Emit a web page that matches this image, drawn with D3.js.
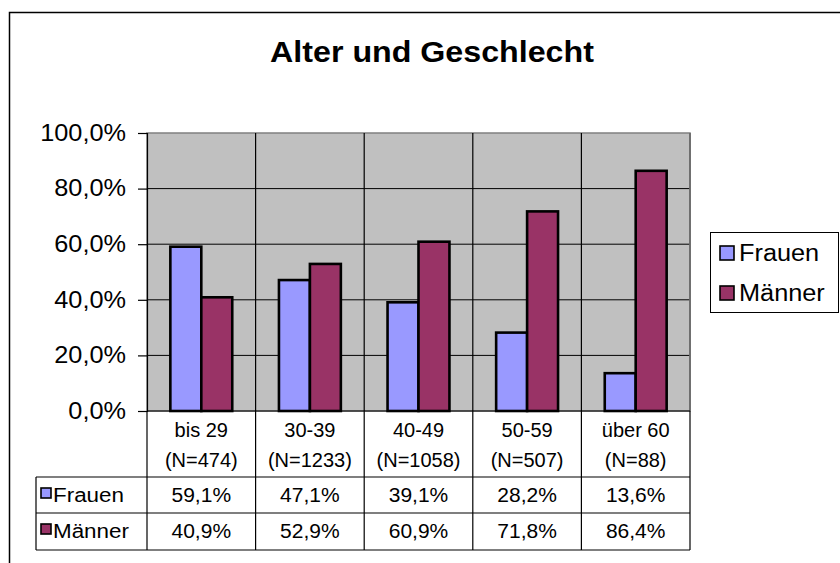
<!DOCTYPE html>
<html>
<head>
<meta charset="utf-8">
<script src="https://cdn.jsdelivr.net/npm/d3@7"></script>
<style>
  body { margin: 0; background: #fff; }
  text { font-family: "Liberation Sans", Arial, sans-serif; fill: #000; }
</style>
</head>
<body>
<svg id="chart" width="840" height="563"></svg>
<script>
// data
const ageGroups = ["bis 29", "30-39", "40-49", "50-59", "über 60"];
const sampleSizes = [474, 1233, 1058, 507, 88];
const seriesNames = ["Frauen", "Männer"];
const frauen = [59.1, 47.1, 39.1, 28.2, 13.6];
const maenner = [40.9, 52.9, 60.9, 71.8, 86.4];
const yTicks = [0, 20, 40, 60, 80, 100];

const colors = {"Frauen": "#9999ff", "Männer": "#993366"};
const seriesValues = {"Frauen": frauen, "Männer": maenner};

const svg = d3.select("#chart");
const plot = {left: 147, right: 690, top: 133, bottom: 411};
const table = {left: 36, head: 477, row2: 513, bottom: 550};

// widen text a bit, the original font renders wider than ours
function stretch(sel, k){
    sel.each(function(){
        let len = this.getComputedTextLength();
        d3.select(this).attr("textLength", len * k).attr("lengthAdjust", "spacingAndGlyphs");
    });
}
let pct = v => d3.format(".1f")(v).replace(".", ",") + "%";

// outer chart frame
svg.append("rect").attr("x", 9.5).attr("y", 12.5).attr("width", 900).attr("height", 600)
    .style("fill", "none").style("stroke", "#000").style("stroke-width", 1.5);

let title = svg.append("text").attr("x", 432).attr("y", 62).attr("text-anchor", "middle")
    .style("font-size", "29px").style("font-weight", "bold").text("Alter und Geschlecht");
stretch(title, 1.11);

let x0 = d3.scaleBand().domain(ageGroups).range([plot.left, plot.right]);
let bw = x0.bandwidth();
let x1 = d3.scaleBand().domain(seriesNames).range([bw * 0.215, bw * 0.785]);
let y = d3.scaleLinear().domain([0, 100]).range([plot.bottom, plot.top]);

svg.append("rect").attr("x", plot.left).attr("y", plot.top)
    .attr("width", plot.right - plot.left).attr("height", plot.bottom - plot.top)
    .style("fill", "#c0c0c0").style("stroke", "#808080").style("stroke-width", 1.5);

// horizontal grid
svg.append("g").selectAll("line").data(yTicks.slice(1, -1)).enter().append("line")
    .attr("x1", plot.left).attr("x2", plot.right)
    .attr("y1", d => y(d)).attr("y2", d => y(d))
    .style("stroke", "#000").style("stroke-width", 1);

// y axis
let yAxis = d3.axisLeft(y).tickValues(yTicks).tickSize(9).tickPadding(12).tickFormat(pct);
let yg = svg.append("g").attr("transform", `translate(${plot.left},0)`).call(yAxis);
yg.select(".domain").style("stroke", "#000").style("stroke-width", 1.2);
yg.selectAll(".tick line").style("stroke", "#000").style("stroke-width", 1.2);
yg.selectAll(".tick text").style("font-size", "23px").style("font-family", "Liberation Sans, Arial, sans-serif").attr("fill", "#000");
stretch(yg.selectAll(".tick text"), 1.1);

// bars
let groups = svg.append("g").selectAll("g").data(ageGroups).enter().append("g")
    .attr("transform", d => `translate(${x0(d)},0)`);
groups.selectAll("rect").data((d, i) => seriesNames.map(s => ({s: s, v: seriesValues[s][i]})))
    .enter().append("rect")
    .attr("x", d => x1(d.s)).attr("width", x1.bandwidth())
    .attr("y", d => y(d.v)).attr("height", d => y(0) - y(d.v))
    .style("fill", d => colors[d.s]).style("stroke", "#000").style("stroke-width", 2.6);

// vertical lines through plot and table
let bounds = ageGroups.map(d => x0(d)).concat([plot.right]);
svg.append("g").selectAll("line").data(bounds).enter().append("line")
    .attr("x1", d => d).attr("x2", d => d)
    .attr("y1", (d, i) => (i == 0 ? plot.bottom : plot.top)).attr("y2", table.bottom)
    .style("stroke", "#000").style("stroke-width", 1.2);
svg.append("line").attr("x1", plot.right).attr("x2", plot.right).attr("y1", plot.top).attr("y2", plot.bottom)
    .style("stroke", "#808080").style("stroke-width", 1.5);
svg.append("line").attr("x1", plot.left).attr("x2", plot.right).attr("y1", plot.bottom).attr("y2", plot.bottom)
    .style("stroke", "#000").style("stroke-width", 1.2);

// data table
[table.head, table.row2, table.bottom].forEach(yy => {
    svg.append("line").attr("x1", table.left).attr("x2", plot.right).attr("y1", yy).attr("y2", yy)
        .style("stroke", "#000").style("stroke-width", 1.2);
});
svg.append("line").attr("x1", table.left).attr("x2", table.left).attr("y1", table.head).attr("y2", table.bottom)
    .style("stroke", "#000").style("stroke-width", 1.2);

let head = svg.append("g").selectAll("text").data(ageGroups).enter().append("text")
    .attr("x", d => x0(d) + bw / 2).attr("text-anchor", "middle").style("font-size", "20px");
head.append("tspan").attr("x", d => x0(d) + bw / 2).attr("y", 437).text(d => d);
head.append("tspan").attr("x", d => x0(d) + bw / 2).attr("y", 467).text((d, i) => "(N=" + sampleSizes[i] + ")");

let rowY = {"Frauen": 502, "Männer": 538};
seriesNames.forEach(s => {
    svg.append("rect").attr("x", 41).attr("y", rowY[s] - 14).attr("width", 10).attr("height", 10)
        .style("fill", colors[s]).style("stroke", "#000").style("stroke-width", 1.6);
    let lab = svg.append("text").attr("x", 53).attr("y", rowY[s]).style("font-size", "20px").text(s);
    stretch(lab, 1.12);
    let vals = svg.append("g").selectAll("text").data(seriesValues[s]).enter().append("text")
        .attr("x", (d, i) => x0(ageGroups[i]) + bw / 2).attr("y", rowY[s])
        .attr("text-anchor", "middle").style("font-size", "20px").text(d => pct(d));
    stretch(vals, 1.05);
});

// legend
let leg = svg.append("g").attr("transform", "translate(710,232)");
leg.append("rect").attr("x", 0.5).attr("y", 0.5).attr("width", 128).attr("height", 80)
    .style("fill", "#fff").style("stroke", "#000").style("stroke-width", 1);
seriesNames.forEach((s, i) => {
    let cy = 21 + i * 40;
    leg.append("rect").attr("x", 10).attr("y", cy - 7).attr("width", 14).attr("height", 14)
        .style("fill", colors[s]).style("stroke", "#000").style("stroke-width", 1.6);
    let t = leg.append("text").attr("x", 29).attr("y", cy + 8).style("font-size", "23px").text(s);
    stretch(t, 1.1);
});
</script>
</body>
</html>
